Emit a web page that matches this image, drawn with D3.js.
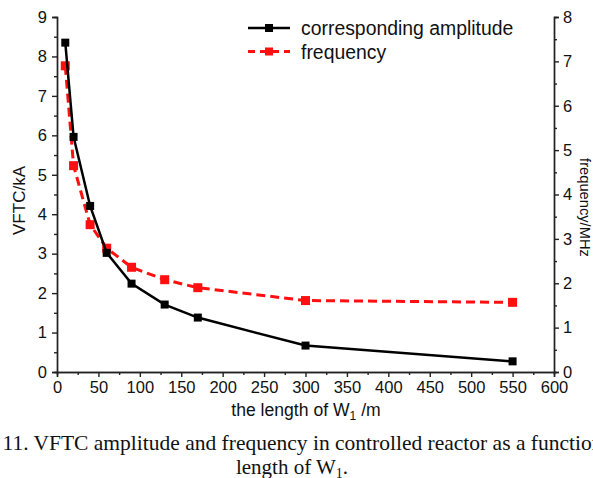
<!DOCTYPE html>
<html>
<head>
<meta charset="utf-8">
<script src="https://cdn.jsdelivr.net/npm/d3@7/dist/d3.min.js"></script>
<style>
  body { margin: 0; background: #fff; overflow: hidden; }
  svg { display: block; }
  text { font-family: "Liberation Sans", Arial, sans-serif; fill: #111; }
  .caption { font-family: "Liberation Serif", "Times New Roman", serif; }
</style>
</head>
<body>
<div id="chart"></div>
<script>
// data
var lengths = [10, 20, 40, 60, 90, 130, 170, 300, 550];          // m
var amplitude = [8.35, 5.96, 4.21, 3.02, 2.24, 1.71, 1.38, 0.67, 0.27]; // kA
var frequency = [6.9, 4.65, 3.32, 2.79, 2.36, 2.08, 1.9, 1.61, 1.57];   // MHz
var seriesNames = ["corresponding amplitude", "frequency"];

var W = 593, H = 478;
var margin = {top: 17, right: 39, bottom: 106, left: 57},
    width = W - margin.left - margin.right,
    height = H - margin.top - margin.bottom;

var svg = d3.select("#chart").append("svg")
    .attr("width", W)
    .attr("height", H);

var g = svg.append("g")
    .attr("transform", "translate(" + margin.left + "," + margin.top + ")");

var x = d3.scaleLinear().domain([0, 600]).range([0, width]);
var yL = d3.scaleLinear().domain([0, 9]).range([height, 0]);
var yR = d3.scaleLinear().domain([0, 8]).range([height, 0]);

// minor ticks first, then major axes on top
function minor(axis, vals) {
  return axis.tickValues(vals).tickSize(3).tickFormat("");
}
g.append("g").attr("class", "ax").attr("transform", "translate(0," + height + ")")
    .call(minor(d3.axisBottom(x), d3.range(25, 600, 50)));
g.append("g").attr("class", "ax")
    .call(minor(d3.axisLeft(yL), d3.range(0.5, 9, 1)));
g.append("g").attr("class", "ax").attr("transform", "translate(" + width + ",0)")
    .call(minor(d3.axisRight(yR), d3.range(0.5, 8, 1)));

g.append("g").attr("class", "ax")
    .attr("transform", "translate(0," + height + ")")
    .call(d3.axisBottom(x).tickValues(d3.range(0, 601, 50)).tickSize(5).tickPadding(4));
g.append("g").attr("class", "ax")
    .call(d3.axisLeft(yL).ticks(9).tickSize(5).tickPadding(5));
g.append("g").attr("class", "ax")
    .attr("transform", "translate(" + width + ",0)")
    .call(d3.axisRight(yR).ticks(8).tickSize(5).tickPadding(4));

g.selectAll(".ax path, .ax line").attr("stroke", "#222").attr("stroke-width", 1.4);
g.selectAll(".ax text").style("font-size", "16.5px").attr("fill", "#111");

// lines
var lineA = d3.line().x(function(d, i) { return x(lengths[i]); }).y(function(d) { return yL(d); });
var lineF = d3.line().x(function(d, i) { return x(lengths[i]); }).y(function(d) { return yR(d); });

g.append("path").datum(frequency)
    .attr("d", lineF)
    .attr("fill", "none")
    .attr("stroke", "#ff0f0f")
    .attr("stroke-width", 3)
    .attr("stroke-dasharray", "9,5");

g.selectAll(".mf").data(frequency).enter().append("rect")
    .attr("x", function(d, i) { return x(lengths[i]) - 4.5; })
    .attr("y", function(d) { return yR(d) - 4.5; })
    .attr("width", 9).attr("height", 9)
    .attr("fill", "#ff0f0f");

g.append("path").datum(amplitude)
    .attr("d", lineA)
    .attr("fill", "none")
    .attr("stroke", "#000")
    .attr("stroke-width", 2.5);

g.selectAll(".ma").data(amplitude).enter().append("rect")
    .attr("x", function(d, i) { return x(lengths[i]) - 4; })
    .attr("y", function(d) { return yL(d) - 4; })
    .attr("width", 8).attr("height", 8)
    .attr("fill", "#000");

// legend
var legend = svg.append("g").attr("transform", "translate(248,28)");
seriesNames.forEach(function(name, i) {
  var row = legend.append("g").attr("transform", "translate(0," + (i * 23.5) + ")");
  var red = i === 1;
  row.append("line")
      .attr("x1", 0).attr("x2", 42).attr("y1", 0).attr("y2", 0)
      .attr("stroke", red ? "#ff0f0f" : "#000")
      .attr("stroke-width", red ? 3 : 2.5)
      .attr("stroke-dasharray", red ? "7,5" : null);
  row.append("rect")
      .attr("x", 17).attr("y", -4).attr("width", 8).attr("height", 8)
      .attr("fill", red ? "#ff0f0f" : "#000");
  row.append("text")
      .attr("x", 53).attr("y", 7)
      .style("font-size", "19.4px")
      .text(name);
});

// axis titles
svg.append("text")
    .attr("transform", "translate(25," + (margin.top + height / 2 + 6) + ") rotate(-90)")
    .attr("text-anchor", "middle")
    .style("font-size", "17px")
    .text("VFTC/kA");

svg.append("text")
    .attr("transform", "translate(580," + (margin.top + height / 2 + 13) + ") rotate(90)")
    .attr("text-anchor", "middle")
    .style("font-size", "14.7px")
    .text("frequency/MHz");

var xt = svg.append("text")
    .attr("x", 306)
    .attr("y", 416)
    .attr("text-anchor", "middle")
    .style("font-size", "17.6px");
xt.append("tspan").text("the length of W");
xt.append("tspan").attr("dy", 4).style("font-size", "12px").text("1");
xt.append("tspan").attr("dy", -4).text(" /m");

// caption (cropped at both sides in the original figure)
svg.append("text")
    .attr("class", "caption")
    .attr("x", -37).attr("y", 450)
    .style("font-size", "21.5px")
    .text("Fig. 11. VFTC amplitude and frequency in controlled reactor as a function of the");

var cap2 = svg.append("text")
    .attr("class", "caption")
    .attr("x", 292).attr("y", 474)
    .attr("text-anchor", "middle")
    .style("font-size", "21px");
cap2.append("tspan").text("length of W");
cap2.append("tspan").attr("dy", 4).style("font-size", "14px").text("1");
cap2.append("tspan").attr("dy", -4).text(".");
</script>
</body>
</html>
